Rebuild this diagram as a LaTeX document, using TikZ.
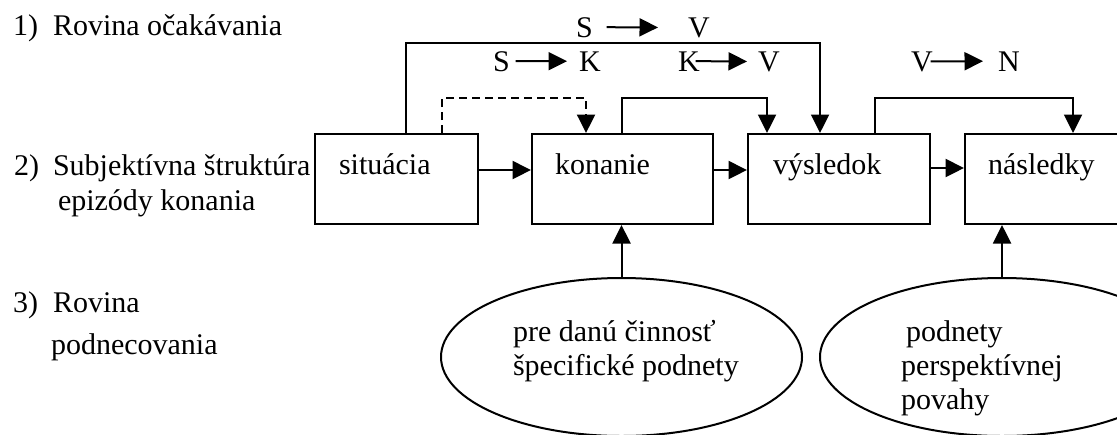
\documentclass[tikz,border=0pt]{standalone}
\usepackage{fontspec}
\setmainfont{Liberation Serif}
\usetikzlibrary{arrows.meta,shapes.geometric,calc}
\newlength\pxu
\setlength\pxu{0.4pt}

\begin{document}
\begin{tikzpicture}[x=0.4pt, y=-0.4pt, line width=0.8pt,
        font=\fontsize{12}{14}\selectfont,
        arr/.style={-{Triangle[length=7.4pt, width=7.2pt]}},
        kasten/.style={draw, rectangle, inner sep=0pt, minimum height=90*\pxu},
        oval/.style={draw, ellipse, inner sep=0pt, minimum height=158*\pxu},
        txt/.style={anchor=base west, inner sep=0pt}]

        \useasboundingbox (0,0) rectangle (1117,434);
        \clip (0,0) rectangle (1117,434);

        % Ebenen
            \node[txt] (n1) at (12,35) {1)};
            \node[txt] (l1) at (52,35) {Rovina očakávania};
            \node[txt] (n2) at (13,175) {2)};
            \node[txt] (l2a) at (52,175) {Subjektívna štruktúra};
            \node[txt] (l2b) at (57,210) {epizódy konania};
            \node[txt] (n3) at (12,312) {3)};
            \node[txt] (l3a) at (52,312) {Rovina};
            \node[txt] (l3b) at (50,354) {podnecovania};

        % Kästen
            \node[kasten, minimum width=163*\pxu] (sit) at (396.5,179) {};
            \node[kasten, minimum width=181*\pxu] (kon) at (622.5,179) {};
            \node[kasten, minimum width=182*\pxu] (vys) at (839,179) {};
            \node[kasten, minimum width=182*\pxu] (nas) at (1056,179) {};
            \node[txt] (sit-t) at (338,174) {situácia};
            \node[txt] (kon-t) at (554,174) {konanie};
            \node[txt] (vys-t) at (772,174) {výsledok};
            \node[txt] (nas-t) at (987,174) {následky};

        % Ellipsen
            \node[oval, minimum width=361*\pxu] (e1) at (621.5,357) {};
            \node[oval, minimum width=364*\pxu] (e2) at (1002,357) {};
            \node[txt] (e1-a) at (512,341) {pre danú činnosť};
            \node[txt] (e1-b) at (512,375) {špecifické podnety};
            \node[txt] (e2-a) at (905,341) {podnety};
            \node[txt] (e2-b) at (900,375) {perspektívnej};
            \node[txt] (e2-c) at (900,409) {povahy};

        % Erwartungen
            \node[txt] (sv-s) at (575,37) {S};
            \node[txt] (sv-v) at (687,37) {V};
            \node[txt] (sk-s) at (492,71) {S};
            \node[txt] (sk-k) at (578,71) {K};
            \node[txt] (kv-k) at (677,71) {K};
            \node[txt] (kv-v) at (757,71) {V};
            \node[txt] (vn-v) at (910,71) {V};
            \node[txt] (vn-n) at (997,71) {N};
            \draw[arr] ($(sv-s.east)+(13,0)$) -- ($(sv-v.west)+(-29,0)$);
            \draw[arr] ($(sk-s.east)+(5,0)$) -- ($(sk-k.west)+(-11,0)$);
            \draw[arr] ($(kv-k.east)+(-5,0)$) -- ($(kv-v.west)+(-10,0)$);
            \draw[arr] ($(vn-v.east)+(-3,0)$) -- ($(vn-n.west)+(-14,0)$);

        % Pfeile
            \draw[arr] (sit.east |- 0,170) -- (kon.west |- 0,170);
            \draw[arr] (kon.east |- 0,170) -- (vys.west |- 0,170);
            \draw[arr] (vys.east |- 0,168) -- (nas.west |- 0,168);
            \draw[arr] (sit.north -| 406,0) -- (406,43) -| (vys.north -| 820,0);
            \draw[arr, dash pattern=on 3.2pt off 2pt] (sit.north -| 442,0) -- (442,98) -| (kon.north -| 586,0);
            \draw[arr] (kon.north -| 622,0) -- (622,98) -| (vys.north -| 767,0);
            \draw[arr] (vys.north -| 875,0) -- (875,98) -| (nas.north -| 1073,0);
            \draw[arr] (e1.north) -- (e1.north |- kon.south);
            \draw[arr] (e2.north) -- (e2.north |- nas.south);
    \end{tikzpicture}
\end{document}
